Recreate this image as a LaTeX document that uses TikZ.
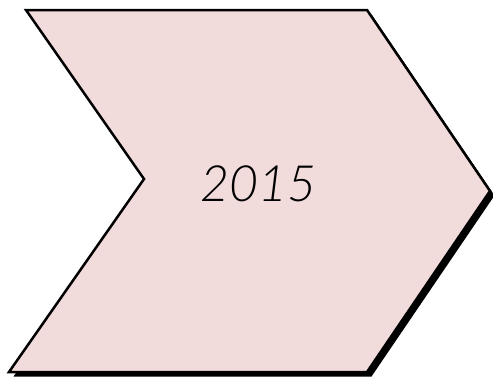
\documentclass[tikz,border=0pt]{standalone}
\usepackage{fontspec}
\setmainfont{Lato Light}
\usetikzlibrary{shadows}
\definecolor{chevronbg}{RGB}{242,219,219}

\begin{document}
\begin{tikzpicture}[
    x=1pt, y=-1pt,
    chevron/.style={draw=black, line width=2.5pt, fill=chevronbg, line join=miter,
                    drop shadow={shadow xshift=4.5pt, shadow yshift=-4.5pt,
                                 fill=black, opacity=1}},
    yearlabel/.style={font=\fontsize{50}{60}\selectfont\itshape, inner sep=0pt}
]
    \useasboundingbox (0,0) rectangle (493,380);
    % arrow shape
    \draw[chevron] (26,10) -- (367,10) -- (490,191) -- (367,372)
        -- (9,372) -- (144,179) -- cycle;
    \node[yearlabel] (year) at (258,184) {2015};
\end{tikzpicture}
\end{document}
